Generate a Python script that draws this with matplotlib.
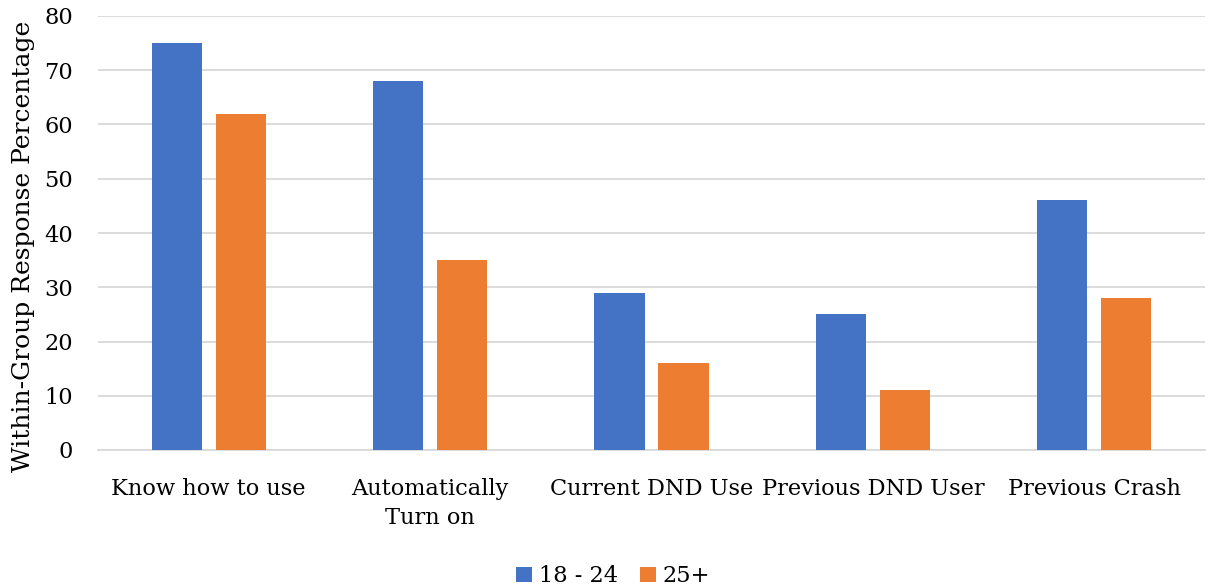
import matplotlib
matplotlib.use("Agg")
import matplotlib.pyplot as plt
import numpy as np

categories = ["Know how to use", "Automatically\nTurn on", "Current DND Use", "Previous DND User", "Previous Crash"]
series_names = ["18 - 24", "25+"]
young = [75, 68, 29, 25, 46]
older = [62, 35, 16, 11, 28]
yticks = [0, 10, 20, 30, 40, 50, 60, 70, 80]

plt.rcParams['font.family'] = ['DejaVu Serif']

fig = plt.figure(figsize=(12.14, 5.87), dpi=100)
ax = fig.add_axes([98/1214, 1 - 450/587, (1205-98)/1214, (450-16)/587])

x = np.arange(len(categories))
w = 0.226
off = 0.1445
ax.bar(x - off, young, w, color="#4472C4", label=series_names[0], zorder=3)
ax.bar(x + off, older, w, color="#ED7D31", label=series_names[1], zorder=3)

ax.set_xlim(-0.5, len(categories) - 0.5)
ax.set_ylim(0, 80)
ax.set_yticks(yticks)
ax.set_xticks(x)
ax.set_xticklabels(categories, fontsize=16.2, linespacing=1.45)
ax.tick_params(axis='y', labelsize=16.2, length=0, pad=18)
ax.tick_params(axis='x', length=0, pad=20)
ax.grid(axis='y', color="#d9d9d9", linewidth=1.3, zorder=0)
for s in ["top", "right", "left"]:
    ax.spines[s].set_visible(False)
ax.spines["bottom"].set_color("#d9d9d9")
ax.spines["bottom"].set_linewidth(1.3)
ax.set_ylabel("Within-Group Response Percentage", fontsize=18)
ax.yaxis.set_label_coords(-0.057, 0.47)

fig.legend(loc="lower center", bbox_to_anchor=(0.505, -0.035), ncol=2, frameon=False,
           fontsize=16.2, handlelength=0.7, handleheight=0.7, handletextpad=0.3, columnspacing=1.0)

fig.savefig("out.png", dpi=100)
